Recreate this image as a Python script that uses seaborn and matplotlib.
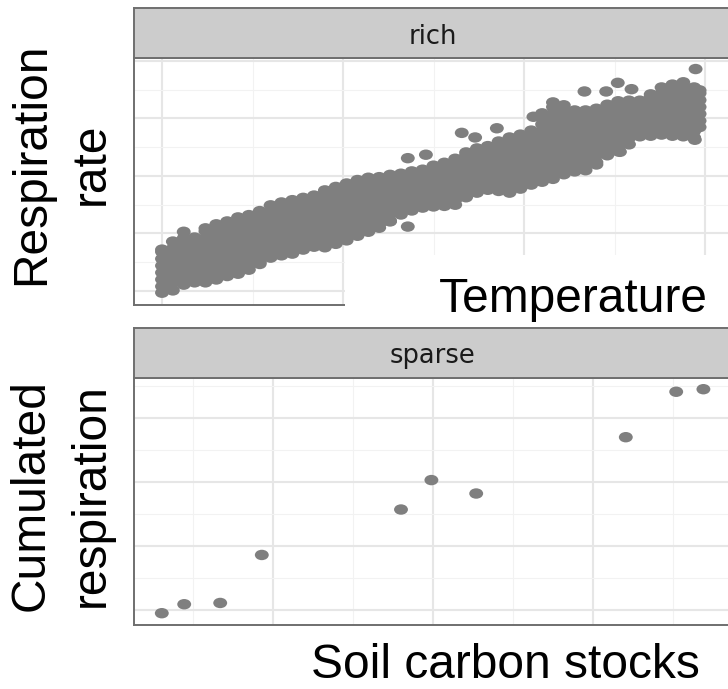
import numpy as np
import pandas as pd
import matplotlib
matplotlib.use("Agg")
import matplotlib.pyplot as plt
from matplotlib.markers import MarkerStyle
from matplotlib.path import Path
from matplotlib.patches import Rectangle
from matplotlib.ticker import MultipleLocator, NullFormatter
from matplotlib.transforms import Affine2D
import seaborn as sns

# ---------------------------------------------------------------- data
# "rich": dense temperature / respiration-rate measurements, listed as
# temperature steps and the respiration readings recorded at each step
rich_temperature_steps = [
    10.0, 10.3, 10.6, 10.9, 11.2, 11.5, 11.8, 12.1, 12.4, 12.7,
    13.0, 13.3, 13.6, 13.9, 14.2, 14.5, 14.8, 15.1, 15.4, 15.7,
    16.0, 16.3, 16.6, 16.9, 17.2, 17.5, 17.8, 18.1, 18.4, 18.7,
    19.0, 19.3, 19.6, 19.9, 20.2, 20.5, 20.8, 21.1, 21.4, 21.7,
    22.0, 22.3, 22.6, 22.9, 23.2, 23.5, 23.8, 24.1, 24.4, 24.7, 24.85,
]
rich_respiration_sets = [
    [0.97, 1.08, 1.20, 1.32, 1.44, 1.56, 1.68, 1.72],
    [1.01, 1.14, 1.26, 1.38, 1.50, 1.62, 1.74, 1.86],
    [1.11, 1.20, 1.32, 1.44, 1.56, 1.68, 1.80, 1.92, 2.03],
    [1.15, 1.26, 1.38, 1.50, 1.62, 1.74, 1.86, 1.93],
    [1.15, 1.20, 1.32, 1.44, 1.56, 1.68, 1.80, 1.92, 2.04, 2.09],
    [1.20, 1.26, 1.38, 1.50, 1.62, 1.74, 1.86, 1.98, 2.10, 2.16],
    [1.26, 1.32, 1.44, 1.56, 1.68, 1.80, 1.92, 2.04, 2.16, 2.21],
    [1.30, 1.38, 1.50, 1.62, 1.74, 1.86, 1.98, 2.10, 2.22, 2.28],
    [1.37, 1.44, 1.56, 1.68, 1.80, 1.92, 2.04, 2.16, 2.28, 2.32],
    [1.47, 1.50, 1.62, 1.74, 1.86, 1.98, 2.10, 2.22, 2.34, 2.39],
    [1.58, 1.68, 1.80, 1.92, 2.04, 2.16, 2.28, 2.40, 2.49],
    [1.62, 1.74, 1.86, 1.98, 2.10, 2.22, 2.34, 2.46, 2.54],
    [1.65, 1.68, 1.80, 1.92, 2.04, 2.16, 2.28, 2.40, 2.52, 2.58],
    [1.72, 1.74, 1.86, 1.98, 2.10, 2.22, 2.34, 2.46, 2.58, 2.62],
    [1.77, 1.80, 1.92, 2.04, 2.16, 2.28, 2.40, 2.52, 2.64, 2.66],
    [1.76, 1.86, 1.98, 2.10, 2.22, 2.34, 2.46, 2.58, 2.70, 2.75],
    [1.82, 1.92, 2.04, 2.16, 2.28, 2.40, 2.52, 2.64, 2.76, 2.81],
    [1.88, 1.98, 2.10, 2.22, 2.34, 2.46, 2.58, 2.70, 2.82, 2.87],
    [1.96, 2.04, 2.16, 2.28, 2.40, 2.52, 2.64, 2.76, 2.88, 2.93],
    [2.03, 2.10, 2.22, 2.34, 2.46, 2.58, 2.70, 2.82, 2.94, 2.97],
    [2.10, 2.16, 2.28, 2.40, 2.52, 2.64, 2.76, 2.88, 2.98],
    [2.21, 2.22, 2.34, 2.46, 2.58, 2.70, 2.82, 2.94, 3.02],
    [2.33, 2.40, 2.52, 2.64, 2.76, 2.88, 3.00, 3.04],
    [2.40, 2.46, 2.58, 2.70, 2.82, 2.94, 3.06, 3.08],
    [2.45, 2.52, 2.64, 2.76, 2.88, 3.00, 3.11],
    [2.47, 2.58, 2.70, 2.82, 2.94, 3.06, 3.18],
    [2.48, 2.52, 2.64, 2.76, 2.88, 3.00, 3.12, 3.23],
    [2.50, 2.58, 2.70, 2.82, 2.94, 3.06, 3.18, 3.30],
    [2.63, 2.76, 2.88, 3.00, 3.12, 3.24, 3.36, 3.41],
    [2.71, 2.82, 2.94, 3.06, 3.18, 3.30, 3.42, 3.48],
    [2.76, 2.88, 3.00, 3.12, 3.24, 3.36, 3.48, 3.52],
    [2.74, 2.82, 2.94, 3.06, 3.18, 3.30, 3.42, 3.54, 3.60],
    [2.71, 2.76, 2.88, 3.00, 3.12, 3.24, 3.36, 3.48, 3.60, 3.67],
    [2.78, 2.82, 2.94, 3.06, 3.18, 3.30, 3.42, 3.54, 3.66, 3.72],
    [2.85, 2.88, 3.00, 3.12, 3.24, 3.36, 3.48, 3.60, 3.72, 3.79],
    [2.90, 2.94, 3.06, 3.18, 3.30, 3.42, 3.54, 3.66, 3.78, 3.90, 4.02, 4.09],
    [2.95, 3.00, 3.12, 3.24, 3.36, 3.48, 3.60, 3.72, 3.84, 3.96, 4.08,
     4.20, 4.28],
    [3.03, 3.06, 3.18, 3.30, 3.42, 3.54, 3.66, 3.78, 3.90, 4.02, 4.14, 4.23],
    [3.08, 3.12, 3.24, 3.36, 3.48, 3.60, 3.72, 3.84, 3.96, 4.08, 4.14],
    [3.10, 3.18, 3.30, 3.42, 3.54, 3.66, 3.78, 3.90, 4.02, 4.14],
    [3.20, 3.24, 3.36, 3.48, 3.60, 3.72, 3.84, 3.96, 4.08, 4.17],
    [3.36, 3.42, 3.54, 3.66, 3.78, 3.90, 4.02, 4.14, 4.24],
    [3.43, 3.48, 3.60, 3.72, 3.84, 3.96, 4.08, 4.20, 4.30],
    [3.55, 3.66, 3.78, 3.90, 4.02, 4.14, 4.26, 4.31],
    [3.69, 3.72, 3.84, 3.96, 4.08, 4.20, 4.31],
    [3.70, 3.78, 3.90, 4.02, 4.14, 4.26, 4.38, 4.42],
    [3.72, 3.84, 3.96, 4.08, 4.20, 4.32, 4.44, 4.54],
    [3.70, 3.78, 3.90, 4.02, 4.14, 4.26, 4.38, 4.50, 4.59],
    [3.69, 3.72, 3.84, 3.96, 4.08, 4.20, 4.32, 4.44, 4.56, 4.63],
    [3.67, 3.78, 3.90, 4.02, 4.14, 4.26, 4.38, 4.50, 4.54],
    [3.85, 3.96, 4.08, 4.20, 4.32, 4.44, 4.49],
]
# scattered readings lying outside the main band
rich_extra_temperature = [16.79, 16.79, 17.29, 18.28, 18.65, 19.25, 20.26,
                          21.67, 22.27, 22.59, 22.97, 24.74, 24.72, 22.65]
rich_extra_respiration = [2.12, 3.31, 3.37, 3.75, 3.67, 3.83, 4.03,
                          4.47, 4.47, 4.62, 4.51, 4.86, 3.63, 3.42]

# "sparse": soil carbon stocks vs cumulated respiration
sparse_carbon = [0.61, 0.89, 1.34, 1.86, 3.60, 3.98, 4.54, 6.41, 7.04, 7.38]
sparse_cum_resp = [0.95, 1.09, 1.11, 1.86, 2.57, 3.03, 2.82, 3.70, 4.41, 4.45]

strip_labels = ["rich", "sparse"]
title_rich_y = "Respiration\nrate"
title_rich_x = "Temperature"
title_sparse_y = "Cumulated\nrespiration"
title_sparse_x = "Soil carbon stocks"

# ---------------------------------------------------------------- frames
rich_x, rich_y = [], []
for t, rs in zip(rich_temperature_steps, rich_respiration_sets):
    rich_x.extend([t] * len(rs))
    rich_y.extend(rs)
rich_x.extend(rich_extra_temperature)
rich_y.extend(rich_extra_respiration)
rich_df = pd.DataFrame({"x": rich_x, "y": rich_y})
sparse_df = pd.DataFrame({"x": sparse_carbon, "y": sparse_cum_resp})

# ---------------------------------------------------------------- style
sns.set_theme(style="white")
plt.rcParams["font.family"] = ["Liberation Sans", "DejaVu Sans"]

W, H = 728, 689
fig = plt.figure(figsize=(W / 100, H / 100), dpi=100)
fig.patch.set_facecolor("white")

POINT = "#7f7f7f"
BORDER = "#6f6f6f"
STRIP_FILL = "#cccccc"
ellipse = MarkerStyle(Path.unit_circle().transformed(Affine2D().scale(1.0, 0.75)))


def frac_box(left, top, right, bottom):
    """Pixel box (from top-left) to figure-fraction [x, y, w, h]."""
    return [left / W, 1 - bottom / H, (right - left) / W, (bottom - top) / H]


def style_panel(ax, xlim, ylim, xmaj, xmin, ymaj, ymin):
    ax.set_xlim(*xlim)
    ax.set_ylim(*ylim)
    ax.xaxis.set_major_locator(MultipleLocator(xmaj))
    ax.xaxis.set_minor_locator(MultipleLocator(xmin))
    ax.yaxis.set_major_locator(MultipleLocator(ymaj))
    ax.yaxis.set_minor_locator(MultipleLocator(ymin))
    ax.xaxis.set_major_formatter(NullFormatter())
    ax.yaxis.set_major_formatter(NullFormatter())
    ax.tick_params(which="both", length=0, labelbottom=False, labelleft=False)
    ax.grid(which="major", color="#e6e6e6", linewidth=1.5)
    ax.grid(which="minor", color="#f2f2f2", linewidth=0.8)
    ax.set_axisbelow(True)
    ax.set_facecolor("white")
    ax.set_xlabel("")
    ax.set_ylabel("")
    for sp in ax.spines.values():
        sp.set_visible(True)
        sp.set_color(BORDER)
        sp.set_linewidth(1.4)


def add_strip(box, label):
    sax = fig.add_axes(frac_box(*box))
    sax.set_facecolor(STRIP_FILL)
    sax.set_xticks([])
    sax.set_yticks([])
    for sp in sax.spines.values():
        sp.set_visible(True)
        sp.set_color(BORDER)
        sp.set_linewidth(1.4)
    sax.text(0.5, 0.29, label, transform=sax.transAxes, ha="center",
             va="baseline", fontsize=18.5, color="#1a1a1a",
             family=["DejaVu Sans"])
    return sax


# ---------------------------------------------------------------- panels
ax_rich = fig.add_axes(frac_box(134, 58, 731, 305))
sns.scatterplot(data=rich_df, x="x", y="y", ax=ax_rich, color=POINT,
                marker=ellipse, s=100, linewidth=0, edgecolor="none")
style_panel(ax_rich, (9.2265, 25.718), (0.7565, 5.052), 5, 2.5, 1, 0.5)
add_strip((134, 8, 731, 58), strip_labels[0])

ax_sparse = fig.add_axes(frac_box(134, 378, 731, 625))
sns.scatterplot(data=sparse_df, x="x", y="y", ax=ax_sparse, color=POINT,
                marker=ellipse, s=100, linewidth=0, edgecolor="none")
style_panel(ax_sparse, (0.2625, 7.725), (0.7656, 4.625), 2, 1, 1, 0.5)
add_strip((134, 328, 731, 378), strip_labels[1])

# white label plate for the upper x title
fig.add_artist(Rectangle((345 / W, 1 - 326.5 / H), (740 - 345) / W,
                         (326.5 - 255) / H, transform=fig.transFigure,
                         facecolor="white", edgecolor="none", zorder=3))

label_kw = dict(fontsize=34.5, color="black",
                family=["Liberation Sans", "DejaVu Sans"])
fig.text(573.5 / W, 1 - 311.7 / H, title_rich_x, ha="center", va="baseline",
         zorder=4, **label_kw)
fig.text(505.5 / W, 1 - 677.5 / H, title_sparse_x, ha="center", va="baseline",
         zorder=4, **label_kw)
fig.text(61 / W, 1 - 164 / H, title_rich_y, rotation=90, ha="center",
         va="center", multialignment="center", linespacing=1.42, zorder=4,
         **label_kw)
fig.text(61 / W, 1 - 495 / H, title_sparse_y, rotation=90, ha="center",
         va="center", multialignment="center", linespacing=1.42, zorder=4,
         **label_kw)

fig.savefig("out.png", dpi=100)
